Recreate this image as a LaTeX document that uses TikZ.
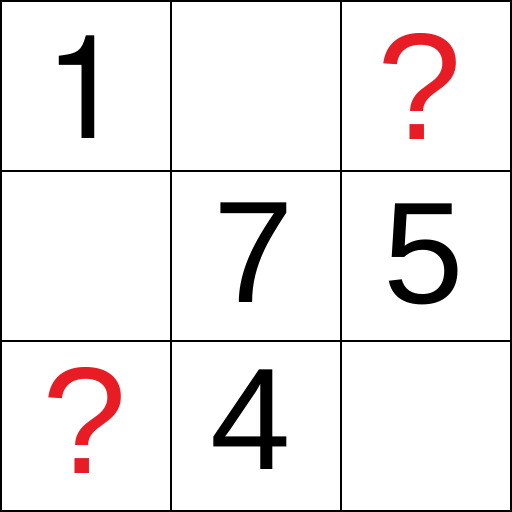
\documentclass[tikz,border=0pt]{standalone}
\usepackage{fontspec}
\setmainfont{Liberation Sans}
\newfontfamily\heros{TeX Gyre Heros}
\definecolor{qred}{RGB}{232,28,36}

\begin{document}
\begin{tikzpicture}[x=0.025cm, y=-0.025cm, line width=0.05cm]
  \tikzset{
    digit/.style={inner sep=0pt, anchor=center, font=\fontsize{103}{103}\selectfont},
    unknown/.style={inner sep=0pt, anchor=center, qred, font=\fontsize{108}{108}\selectfont}
  }
  \useasboundingbox (0,0) rectangle (512,512);

  % Grid
  \draw (1,1) rectangle (511,511);
  \draw (171,1) -- (171,511);
  \draw (341,1) -- (341,511);
  \draw (1,171) -- (511,171);
  \draw (1,341) -- (511,341);

  % Numbers
  \node[digit, font=\fontsize{103}{103}\heros] (one) at (85,87) {1};
  \node[unknown] (qtop) at (420,86) {?};
  \node[digit] (seven) at (254,253) {7};
  \node[digit] (five) at (424,254) {5};
  \node[unknown] (qbottom) at (85,420) {?};
  \node[digit] (four) at (251,420) {4};

\end{tikzpicture}
\end{document}
